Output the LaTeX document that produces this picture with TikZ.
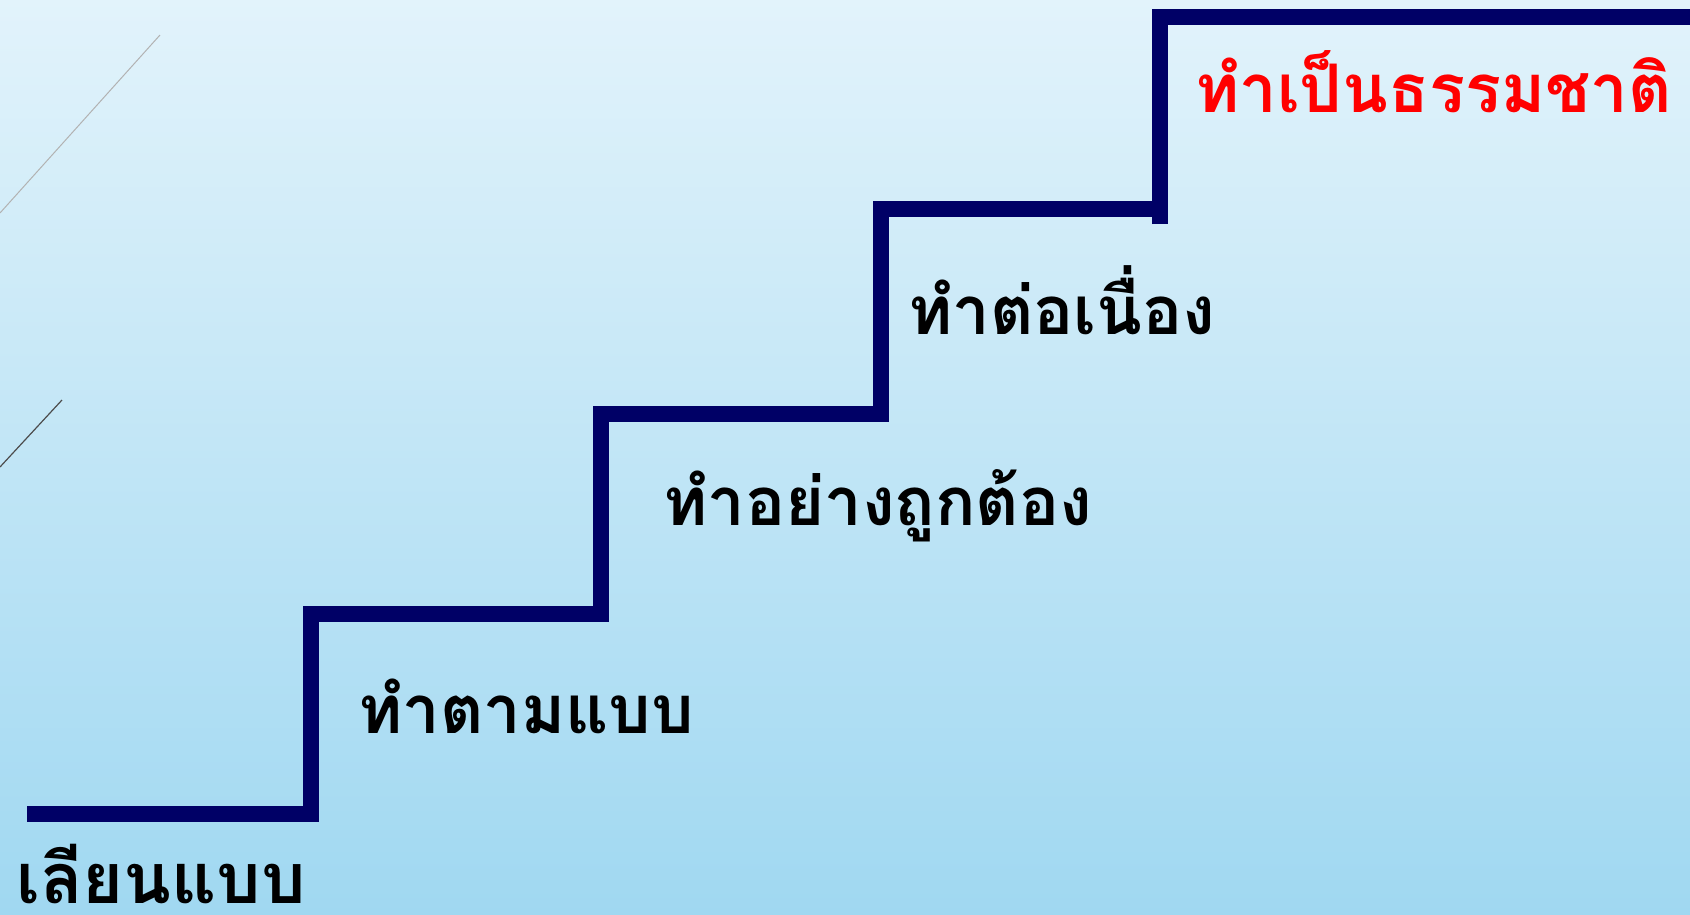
\documentclass[tikz,border=0pt]{standalone}
\usepackage{fontspec}
\newfontfamily\thaifont[Script=Thai]{Loma}
\definecolor{bgtop}{RGB}{226,243,251}
\definecolor{bgbottom}{RGB}{160,216,241}
\definecolor{stairblue}{RGB}{0,0,102}
\begin{document}
\begin{tikzpicture}[x=1pt, y=-1pt,
    stair/.style={line width=16pt, color=stairblue, line join=miter},
    steplabel/.style={anchor=base west, inner sep=0pt, font=\thaifont\bfseries\fontsize{67}{74}\selectfont}]
    \useasboundingbox (0,0) rectangle (1690,914);
    \shade[top color=bgtop, bottom color=bgbottom] (0,0) rectangle (1690,914);
    % thin lines on the left
    \draw[color=gray!60, line width=1pt] (160,35) -- (0,213);
    \draw[color=black!70, line width=1.2pt] (62,400) -- (0,467);
    % the stairs
    \draw[stair] (27,814) -| (311,614) -| (601,414) -| (881,209) -- (1160,209);
    \draw[stair] (1160,224) -- (1160,17) -- (1690,17);
    \node[steplabel, font=\thaifont\bfseries\fontsize{70}{77}\selectfont] (copy) at (16,903) {เลียนแบบ};
    \node[steplabel] (follow) at (358,733) {ทำตามแบบ};
    \node[steplabel] (correct) at (663,525) {ทำอย่างถูกต้อง};
    \node[steplabel] (continue) at (908,334) {ทำต่อเนื่อง};
    \node[steplabel, text=red] (natural) at (1195,112) {ทำเป็นธรรมชาติ};
\end{tikzpicture}
\end{document}
